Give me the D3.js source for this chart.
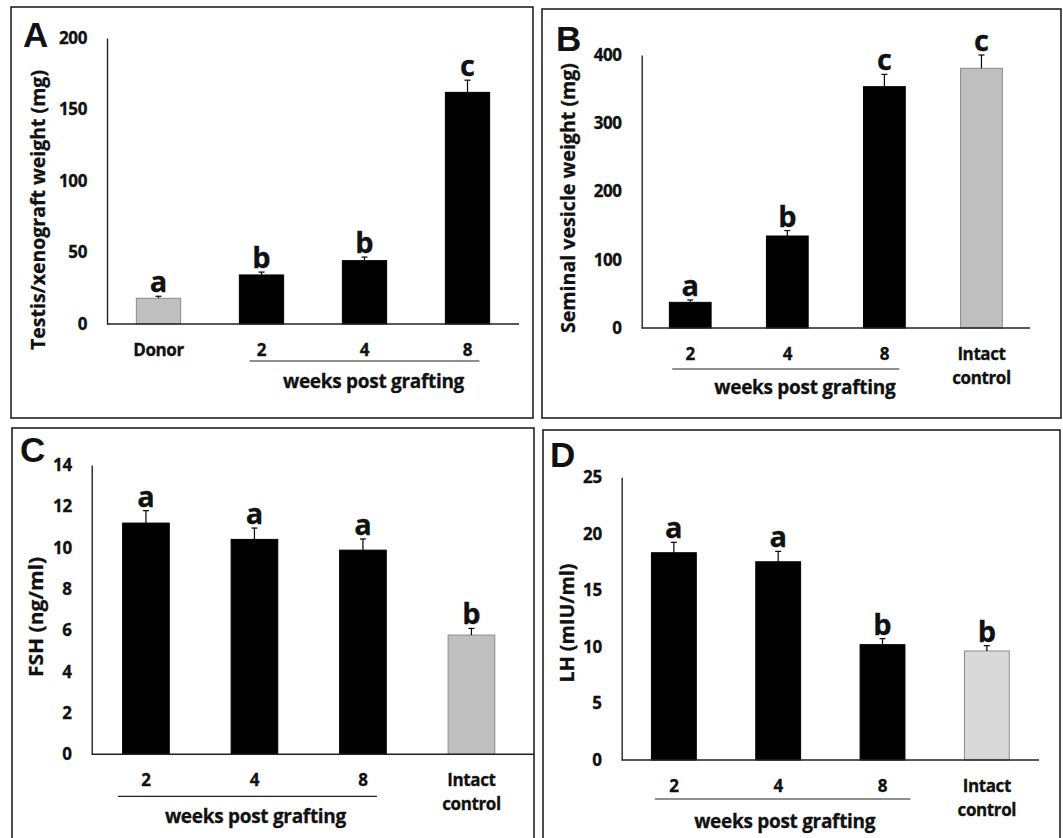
<!DOCTYPE html>
<html>
<head>
<meta charset="utf-8">
<script src="https://cdn.jsdelivr.net/npm/d3@7"></script>
<style>
  body { margin: 0; background: #fff; }
  svg text { font-family: "Open Sans", Lato, sans-serif; font-weight: bold; fill: #111; stroke: #111; stroke-width: 0.3px; }
  svg text.panel { font-family: "Liberation Sans", Arial, sans-serif; stroke: none; }
</style>
</head>
<body>
<div class="container"></div>
<script>
const width = 1063;
const height = 838;

// panel A - testis / xenograft weight
const aCats = ["Donor", "2", "4", "8"];
const aVals = [18, 34.3, 44.3, 162];
const aErrs = [1.4, 2, 2.5, 8.5];
const aSig = ["a", "b", "b", "c"];
const aGray = [true, false, false, false];
const aTicks = [0, 50, 100, 150, 200];

// panel B - seminal vesicle weight
const bCats = ["2", "4", "8", "Intact control"];
const bVals = [37.6, 134.8, 353.6, 380.5];
const bErrs = [3.5, 8, 18, 19.5];
const bSig = ["a", "b", "c", "c"];
const bGray = [false, false, false, true];
const bTicks = [0, 100, 200, 300, 400];

// panel C - FSH
const cCats = ["2", "4", "8", "Intact control"];
const cVals = [11.19, 10.4, 9.88, 5.77];
const cErrs = [0.6, 0.55, 0.54, 0.32];
const cSig = ["a", "a", "a", "b"];
const cGray = [false, false, false, true];
const cTicks = [0, 2, 4, 6, 8, 10, 12, 14];

// panel D - LH
const dCats = ["2", "4", "8", "Intact control"];
const dVals = [18.33, 17.53, 10.2, 9.64];
const dErrs = [0.92, 0.92, 0.53, 0.47];
const dSig = ["a", "a", "b", "b"];
const dGray = [false, false, false, true];
const dTicks = [0, 5, 10, 15, 20, 25];

const groupLabel = "weeks post grafting";

// layout per panel; titleLen = length of the rotated y title in px
const panels = [
  { name: "A", cats: aCats, vals: aVals, errs: aErrs, sig: aSig, gray: aGray, ticks: aTicks,
    title: "Testis/xenograft weight (mg)", titleLen: 280, grayFill: "#bfbfbf",
    box: [11, 7, 533, 418], x: [107, 519], xEnd: 519, y: [324, 38], letter: [23, 47],
    titlePos: [38, 210], grp: [1, 3, -12, 12, 37, 64, 9] },
  { name: "B", cats: bCats, vals: bVals, errs: bErrs, sig: bSig, gray: bGray, ticks: bTicks,
    title: "Seminal vesicle weight (mg)", titleLen: 270, grayFill: "#bfbfbf",
    box: [542, 9, 1061, 418], x: [641.7, 1030], xEnd: 1030, y: [328, 55], letter: [556, 51],
    titlePos: [568, 198], grp: [0, 2, -18, 15, 41, 66, 19] },
  { name: "C", cats: cCats, vals: cVals, errs: cErrs, sig: cSig, gray: cGray, ticks: cTicks,
    title: "FSH (ng/ml)", titleLen: 120, grayFill: "#bfbfbf",
    box: [12, 428, 534, 860], x: [91.7, 525.7], xEnd: 534, y: [754.3, 465], letter: [20, 462],
    titlePos: [36, 617], grp: [0, 2, -28, 14, 42, 69, 8] },
  { name: "D", cats: dCats, vals: dVals, errs: dErrs, sig: dSig, gray: dGray, ticks: dTicks,
    title: "LH (mIU/ml)", titleLen: 119, grayFill: "#d9d9d9",
    box: [543, 430, 1060, 860], x: [621.7, 1039], xEnd: 1039, y: [760, 477.3], letter: [550, 467],
    titlePos: [567, 623], grp: [0, 2, -19, 28, 39, 68, 2] }
];

const svg = d3.select(".container")
  .append("svg")
  .attr("width", width)
  .attr("height", height);

panels.forEach(p => {
  const g = svg.append("g").attr("id", "panel" + p.name);

  // frame
  g.append("rect")
    .attr("x", p.box[0]).attr("y", p.box[1])
    .attr("width", p.box[2] - p.box[0]).attr("height", p.box[3] - p.box[1])
    .attr("fill", "none").attr("stroke", "#222").attr("stroke-width", 1.6);

  g.append("text").attr("class", "panel")
    .attr("x", p.letter[0]).attr("y", p.letter[1])
    .attr("font-size", 35)
    .text(p.name);

  const xScale = d3.scaleBand()
    .domain(p.cats)
    .range(p.x)
    .paddingInner(0.57)
    .paddingOuter(0.285);

  const yScale = d3.scaleLinear()
    .domain([0, d3.max(p.ticks)])
    .range(p.y);

  // y axis: labels only, no ticks
  const yAxis = g.append("g")
    .attr("transform", `translate(${p.x[0]},0)`)
    .call(d3.axisLeft(yScale).tickValues(p.ticks).tickSize(0).tickPadding(20));
  yAxis.select(".domain").attr("stroke", "#222").attr("stroke-width", 1.4);
  yAxis.selectAll("text").attr("font-size", 17).attr("fill", "#111")
    .attr("letter-spacing", -0.4)
    .style("font-family", "'Open Sans', sans-serif").style("font-weight", "bold");

  // y title
  g.append("text")
    .attr("transform", `translate(${p.titlePos[0]},${p.titlePos[1]}) rotate(-90)`)
    .attr("text-anchor", "middle")
    .attr("dy", "0.35em")
    .attr("font-size", 20)
    .attr("textLength", p.titleLen)
    .attr("lengthAdjust", "spacingAndGlyphs")
    .text(p.title);

  const rows = p.cats.map((c, i) => ({ cat: c, val: p.vals[i], err: p.errs[i], sig: p.sig[i], gray: p.gray[i] }));

  // bars
  g.selectAll("rect.bar")
    .data(rows)
    .enter()
    .append("rect")
    .attr("class", "bar")
    .attr("x", d => xScale(d.cat))
    .attr("y", d => yScale(d.val))
    .attr("width", xScale.bandwidth())
    .attr("height", d => yScale(0) - yScale(d.val))
    .attr("fill", d => d.gray ? p.grayFill : "#000")
    .attr("stroke", d => d.gray ? "#8a8a8a" : "#000")
    .attr("stroke-width", 1);

  // error bars (upper only)
  const cx = d => xScale(d.cat) + xScale.bandwidth() / 2;
  g.selectAll("line.err")
    .data(rows)
    .enter()
    .append("line")
    .attr("x1", cx).attr("x2", cx)
    .attr("y1", d => yScale(d.val))
    .attr("y2", d => yScale(d.val + d.err))
    .attr("stroke", "#000").attr("stroke-width", 1.2);
  g.selectAll("line.cap")
    .data(rows)
    .enter()
    .append("line")
    .attr("x1", d => cx(d) - 3).attr("x2", d => cx(d) + 3)
    .attr("y1", d => yScale(d.val + d.err))
    .attr("y2", d => yScale(d.val + d.err))
    .attr("stroke", "#000").attr("stroke-width", 1.2);

  // significance letters
  g.selectAll("text.sig")
    .data(rows)
    .enter()
    .append("text")
    .attr("x", cx)
    .attr("y", d => yScale(d.val + d.err) - 4)
    .attr("text-anchor", "middle")
    .attr("font-size", 29)
    .text(d => d.sig);

  // x axis line
  const y0 = yScale(0);
  g.append("line")
    .attr("x1", p.x[0]).attr("x2", p.xEnd)
    .attr("y1", y0).attr("y2", y0)
    .attr("stroke", "#222").attr("stroke-width", 1.4);

  // category labels
  rows.forEach(d => {
    const words = d.cat === "Intact control" ? ["Intact", "control"] : [d.cat];
    const t = g.append("text")
      .attr("x", cx(d))
      .attr("y", y0 + 32)
      .attr("text-anchor", "middle")
      .attr("font-size", 17)
      .attr("letter-spacing", -0.4);
    words.forEach((w, k) => {
      t.append("tspan").attr("x", cx(d)).attr("dy", k ? 24 : 0).text(w);
    });
  });

  // group underline and label
  const gr = p.grp;
  const lx1 = cx(rows[gr[0]]) + gr[2];
  const lx2 = cx(rows[gr[1]]) + gr[3];
  g.append("line")
    .attr("x1", lx1).attr("x2", lx2)
    .attr("y1", y0 + gr[4]).attr("y2", y0 + gr[4])
    .attr("stroke", "#222").attr("stroke-width", 1.2);
  g.append("text")
    .attr("x", (lx1 + lx2) / 2 + gr[6])
    .attr("y", y0 + gr[5])
    .attr("text-anchor", "middle")
    .attr("font-size", 19)
    .attr("letter-spacing", -0.3)
    .text(groupLabel);
});
</script>
</body>
</html>
